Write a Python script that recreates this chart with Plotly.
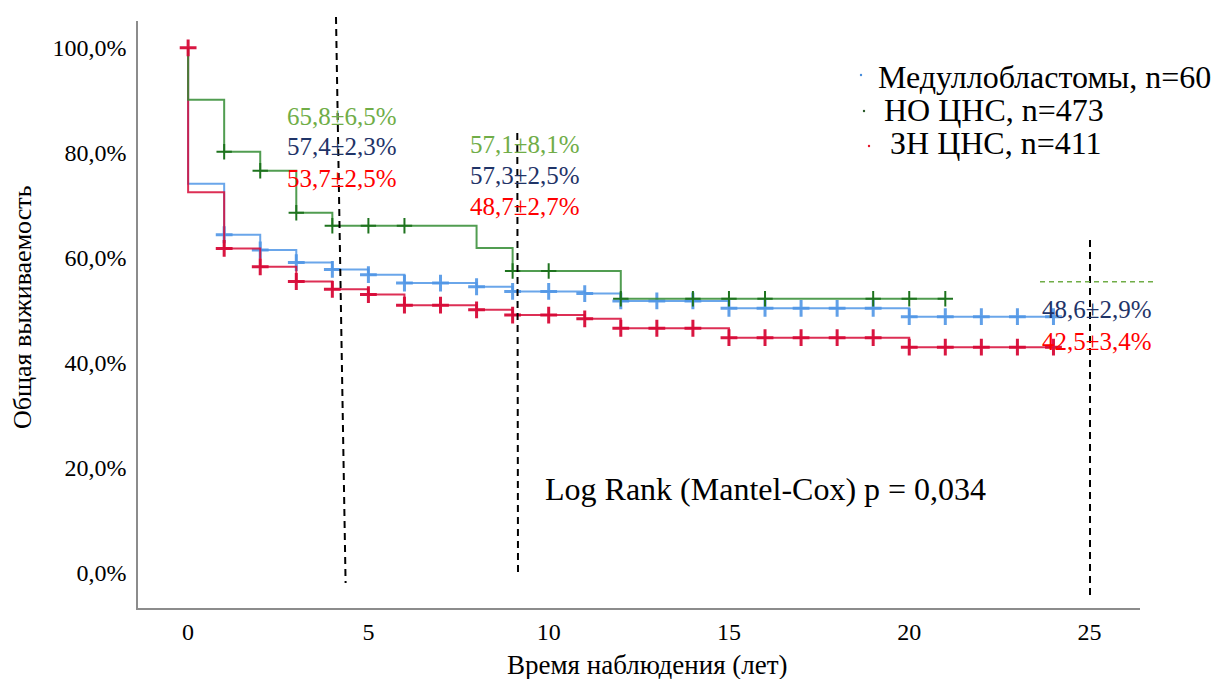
import plotly.graph_objects as go

# ---------------- data ----------------
# step curves (time in years, survival in %)
green_t = [0, 0, 1, 2, 3, 4, 8, 9, 12, 21]
green_s = [100, 90.1, 80.2, 76.6, 68.6, 66.1, 61.9, 57.5, 52.2, 52.2]
blue_t = [0, 0, 1, 2, 3, 4, 5, 6, 8, 9, 11, 12, 15, 20, 24]
blue_s = [100, 74.1, 64.4, 61.5, 59.1, 57.8, 56.8, 55.2, 54.5, 53.6, 53.2, 51.8, 50.4, 48.8, 48.8]
red_t = [0, 0, 1, 2, 3, 4, 5, 6, 8, 9, 11, 12, 15, 20, 24]
red_s = [100, 72.5, 61.8, 58.3, 55.5, 54.0, 53.0, 51.0, 50.1, 49.1, 48.4, 46.6, 44.8, 43.0, 43.0]

# censoring marks (years)
green_cens = [1, 2, 3, 4, 5, 6, 9, 10, 12, 14, 15, 16, 19, 20, 21]
blue_cens = [1, 2, 3, 4, 5, 6, 7, 8, 9, 10, 11, 12, 13, 14, 15, 16, 17, 18, 19, 20, 21, 22, 23, 24]
red_cens = [1, 2, 3, 4, 5, 6, 7, 8, 9, 10, 11, 12, 13, 14, 15, 16, 17, 18, 19, 20, 21, 22, 23, 24]

legend_labels = ["Медуллобластомы, n=60", "НО ЦНС, n=473", "ЗН ЦНС, n=411"]
y_tickvals = [0, 20, 40, 60, 80, 100]
y_ticktext = ["0,0%", "20,0%", "40,0%", "60,0%", "80,0%", "100,0%"]
x_tickvals = [0, 5, 10, 15, 20, 25]

ann5 = ["65,8±6,5%", "57,4±2,3%", "53,7±2,5%"]
ann9 = ["57,1±8,1%", "57,3±2,5%", "48,7±2,7%"]
ann25 = ["48,6±2,9%", "42,5±3,4%"]
logrank = "Log Rank (Mantel-Cox) p = 0,034"
x_title = "Время наблюдения (лет)"
y_title = "Общая выживаемость"

# ---------------- styling ----------------
FONT = "Liberation Serif"
C_GREEN_LINE = "rgba(50,140,50,0.85)"
C_GREEN_MARK = "rgb(30,115,30)"
C_BLUE_LINE = "rgba(80,150,230,0.85)"
C_BLUE_MARK = "rgba(80,150,230,0.9)"
C_RED_LINE = "rgba(215,10,55,0.85)"
C_RED_MARK = "rgba(215,10,55,0.95)"
T_GREEN = "#70AD47"
T_NAVY = "#1F3468"
T_RED = "#FF0000"

W, H = 1216, 679
L, R, T, B = 138, 76, 21, 71
XR = [-1.39, 26.4]
YR = [-6.67, 105.1]
PW, PH = W - L - R, H - T - B


def pap_x(px):
    return (px - L) / PW


def pap_y(py):
    return (H - B - py) / PH


def step_at(ts, ss, t):
    v = ss[0]
    for ti, si in zip(ts, ss):
        if ti <= t:
            v = si
    return v


fig = go.Figure()

series = [
    (blue_t, blue_s, blue_cens, C_BLUE_LINE, C_BLUE_MARK, 12, 3),
    (red_t, red_s, red_cens, C_RED_LINE, C_RED_MARK, 12, 3),
    (green_t, green_s, green_cens, C_GREEN_LINE, C_GREEN_MARK, 11, 2),
]
for ts, ss, cens, lc, mc, msz, mw in series:
    fig.add_trace(go.Scatter(x=ts, y=ss, mode="lines", line=dict(color=lc, width=2, shape="hv"),
                             showlegend=False, hoverinfo="skip"))
    fig.add_trace(go.Scatter(x=cens, y=[step_at(ts, ss, c) for c in cens], mode="markers",
                             marker=dict(symbol="cross-thin", size=msz, line=dict(color=mc, width=mw)),
                             showlegend=False, hoverinfo="skip"))

# start mark
fig.add_trace(go.Scatter(x=[red_t[0]], y=[red_s[0]], mode="markers",
                         marker=dict(symbol="cross-thin", size=12, line=dict(color=C_RED_MARK, width=3)),
                         showlegend=False, hoverinfo="skip"))

annotations = []


def add_text(text, xpx, ypx, color, size, xanchor="center"):
    annotations.append(dict(text=text, x=pap_x(xpx), y=pap_y(ypx), xref="paper", yref="paper",
                            xanchor=xanchor, yanchor="middle", showarrow=False,
                            font=dict(family=FONT, size=size, color=color)))


cols3 = [T_GREEN, T_NAVY, T_RED]
for i, (txt, yy) in enumerate(zip(ann5, [116, 147, 178])):
    add_text(txt, 342, yy, cols3[i], 25)
for i, (txt, yy) in enumerate(zip(ann9, [144, 175, 206])):
    add_text(txt, 525, yy, cols3[i], 25)
for i, (txt, yy) in enumerate(zip(ann25, [309, 341])):
    add_text(txt, 1097, yy, cols3[i + 1], 25)

add_text(logrank, 765, 489, "black", 32)

# legend (text + tiny dot swatches)
leg_x = [876, 882, 888]
leg_y = [77, 110, 143]
leg_dot = [(861, 75, "rgb(70,140,220)"), (864, 111, "rgb(40,90,40)"), (869, 146, "rgb(230,20,40)")]
for lab, lx, ly in zip(legend_labels, leg_x, leg_y):
    add_text(lab, lx, ly, "black", 32, xanchor="left")

shapes = []
for dx, dy, dc in leg_dot:
    shapes.append(dict(type="circle", xref="paper", yref="paper",
                       x0=pap_x(dx - 1.2), x1=pap_x(dx + 1.2), y0=pap_y(dy + 1.2), y1=pap_y(dy - 1.2),
                       fillcolor=dc, line=dict(width=0)))

# axis titles
add_text(x_title, 647, 665, "black", 27)
annotations.append(dict(text=y_title, x=pap_x(22), y=pap_y(307), xref="paper", yref="paper",
                        xanchor="center", yanchor="middle", textangle=-90, showarrow=False,
                        font=dict(family=FONT, size=26, color="black")))

# dashed guide lines
for (x0, y0, x1, y1) in [(336, 17, 345.6, 583), (517.3, 133, 518, 574), (1090, 240, 1090, 598)]:
    shapes.append(dict(type="line", xref="paper", yref="paper",
                       x0=pap_x(x0), y0=pap_y(y0), x1=pap_x(x1), y1=pap_y(y1),
                       line=dict(color="black", width=2, dash="7px,5px")))
shapes.append(dict(type="line", xref="paper", yref="paper",
                   x0=pap_x(1040), y0=pap_y(281.7), x1=pap_x(1153), y1=pap_y(281.7),
                   line=dict(color=T_GREEN, width=1.5, dash="5px,4px")))

fig.update_layout(
    width=W, height=H,
    margin=dict(l=L, r=R, t=T, b=B),
    plot_bgcolor="white", paper_bgcolor="white",
    showlegend=False,
    annotations=annotations,
    shapes=shapes,
    font=dict(family=FONT),
    xaxis=dict(range=XR, tickvals=x_tickvals, ticktext=[str(v) for v in x_tickvals],
               showgrid=False, zeroline=False, showline=True, linecolor="#8c8c8c", linewidth=1.5,
               ticks="", ticklabelstandoff=1,
               tickfont=dict(family=FONT, size=24, color="black")),
    yaxis=dict(range=YR, tickvals=y_tickvals, ticktext=y_ticktext,
               showgrid=False, zeroline=False, showline=True, linecolor="#8c8c8c", linewidth=1.5,
               ticks="", ticklabelstandoff=5,
               tickfont=dict(family=FONT, size=24, color="black")),
)

fig.write_html("out.html", config={"displayModeBar": False},
               post_script="document.body.style.margin='0px';document.body.style.padding='0px';")
